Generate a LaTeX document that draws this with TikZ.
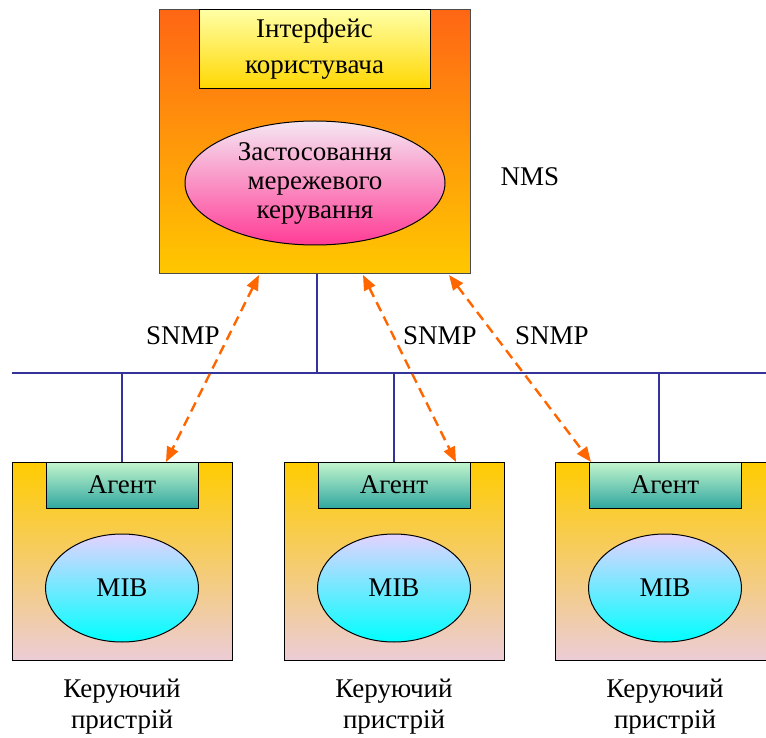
\documentclass[tikz,border=0pt]{standalone}
\usepackage{fontspec}
\setmainfont{Liberation Serif}
\usetikzlibrary{shapes.geometric,arrows.meta}
\definecolor{netblue}{HTML}{333399}
\definecolor{arrorange}{HTML}{FF6600}
\tikzset{
  txt/.style={font=\fontsize{27}{31}\selectfont, align=center, text=black},
  nmsbox/.style={draw=black!70, line width=1pt, rectangle, top color={rgb,255:red,255;green,102;blue,20}, bottom color={rgb,255:red,255;green,200;blue,0}, inner sep=0pt},
  ifbox/.style={draw=black, line width=1pt, rectangle, top color={rgb,255:red,255;green,255;blue,165}, bottom color={rgb,255:red,255;green,215;blue,0}, inner sep=0pt, txt, font=\fontsize{27}{36}\selectfont},
  appell/.style={draw=black, line width=1pt, ellipse, top color={rgb,255:red,245;green,230;blue,242}, bottom color={rgb,255:red,255;green,60;blue,150}, inner sep=0pt, txt, font=\fontsize{27}{29}\selectfont},
  devbox/.style={draw=black, line width=1pt, rectangle, top color={rgb,255:red,255;green,204;blue,0}, bottom color={rgb,255:red,236;green,204;blue,214}, minimum width=220pt, minimum height=198pt, inner sep=0pt},
  agentbox/.style={draw=black, line width=1pt, rectangle, top color={rgb,255:red,195;green,245;blue,205}, bottom color={rgb,255:red,50;green,168;blue,160}, minimum width=152pt, minimum height=46pt, inner sep=0pt, txt},
  mibell/.style={draw=black, line width=1pt, ellipse, top color={rgb,255:red,228;green,210;blue,255}, bottom color={rgb,255:red,0;green,255;blue,255}, minimum width=153pt, minimum height=108pt, inner sep=0pt, txt},
  bus/.style={draw=netblue, line width=2.6pt},
  drop/.style={draw=netblue, line width=2pt},
  snmp/.style={draw=arrorange, line width=2.4pt, dash pattern=on 10pt off 6pt, {Triangle[length=15pt,width=12pt]}-{Triangle[length=15pt,width=12pt]}},
}
\begin{document}
\begin{tikzpicture}[x=1pt,y=-1pt]
\useasboundingbox (0,0) rectangle (766,738);
\clip (0,0) rectangle (766,738);
% NMS
\node[nmsbox, minimum width=311pt, minimum height=264pt] (nms) at (314.5,142) {};
\node[ifbox, minimum width=231pt, minimum height=79pt] (iface) at (314.5,49.5) {Інтерфейс\\користувача};
\node[appell, minimum width=260pt, minimum height=124pt] (app) at (315,183) {Застосовання\\мережевого\\керування};
\node[txt] (nmslbl) at (530,177) {NMS};
% network
\coordinate (busL) at (12,373);
\coordinate (busR) at (766,373);
\coordinate (busN) at (317,373);
\coordinate (nmsD) at (317,274);
\draw[drop] (nmsD) -- (busN);
\draw[bus] (busL) -- (busR);
% devices
\foreach \i/\cx/\dx in {1/122/122, 2/394/394, 3/665/659}{
  \node[devbox] (dev\i) at (\cx,561) {};
  \node[agentbox] (agent\i) at (\cx,485) {Агент};
  \node[mibell] (mib\i) at (\cx,588) {MIB};
  \node[txt] (lbl\i) at (\cx,707) {Керуючий\\пристрій};
  \coordinate (tap\i) at (\dx,373);
  \coordinate (top\i) at (\dx,462);
  \draw[drop] (tap\i) -- (top\i);
}
% SNMP arrows
\coordinate (a1t) at (259,275);
\coordinate (a1b) at (166,462);
\coordinate (a2t) at (363,275);
\coordinate (a2b) at (456,462);
\coordinate (a3t) at (449,275);
\coordinate (a3b) at (591,462);
\draw[snmp] (a1t) -- (a1b);
\draw[snmp] (a2t) -- (a2b);
\draw[snmp] (a3t) -- (a3b);
\node[txt] (s1) at (183,336) {SNMP};
\node[txt] (s2) at (440,336) {SNMP};
\node[txt] (s3) at (552,336) {SNMP};
\end{tikzpicture}
\end{document}
